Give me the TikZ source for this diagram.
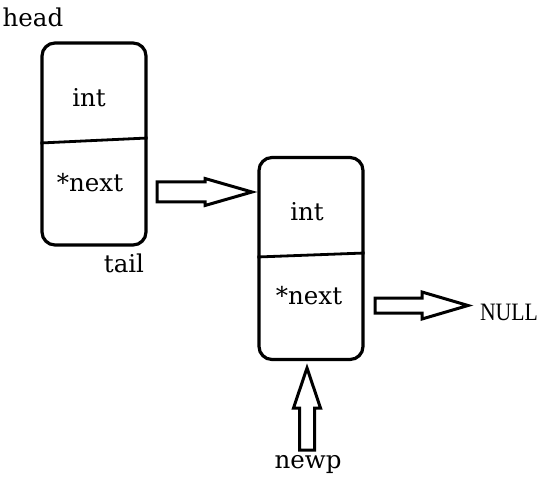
\documentclass[tikz,border=0pt]{standalone}
\usepackage{fontspec}
\setmainfont{DejaVu Serif}
\newfontfamily\timesfam{Liberation Serif}
\usepackage{tikz}

\tikzset{
  cell/.style={draw=black, line width=3.2pt, rounded corners=13pt,
    minimum width=104pt, minimum height=202pt, inner sep=0pt},
  lbl/.style={anchor=base, inner sep=0pt, text=black},
  pics/blockarrow/.style args={#1/#2/#3}{code={
    \draw[black, line width=3pt, line join=miter, fill=white]
      (0,-#3) -- (#1-#2,-#3) -- (#1-#2,-13.5) -- (#1,0)
      -- (#1-#2,13.5) -- (#1-#2,#3) -- (0,#3) -- cycle;
  }}
}

\begin{document}
\begin{tikzpicture}[x=1pt,y=-1pt,font=\fontsize{24.5}{28}\selectfont]
\useasboundingbox (0,0) rectangle (548,486);

% ---------- first node ----------
\node[cell] (node1) at (94,144) {};
\draw[line width=2.8pt] ([yshift=1pt]node1.west) -- ([yshift=6pt]node1.east);
\node[lbl] (head) at (33,27) {head};
\node[lbl] (int1) at (89,107) {int};
\node[lbl] (next1) at (90,192) {*next};
\node[lbl] (tail) at (124,272) {tail};

% ---------- second node ----------
\node[cell] (node2) at (311,258.5) {};
\draw[line width=2.8pt] ([yshift=1.5pt]node2.west) -- ([yshift=5.5pt]node2.east);
\node[lbl] (int2) at (307,221) {int};
\node[lbl] (next2) at (309,304) {*next};
\node[lbl,font=\timesfam\fontsize{25}{28}\selectfont] (null) at (509,320)
  {\scalebox{0.87}[1]{NULL}};
\node[lbl] (newp) at (308,468) {newp};

% ---------- arrows ----------
\coordinate (arr1) at (157,192);
\coordinate (arr2) at (375,305.5);
\coordinate (arr3) at (307,450);
\pic at (arr1) {blockarrow={95/47/10}};
\pic at (arr2) {blockarrow={93/46/7.5}};
\pic[rotate=90] at (arr3) {blockarrow={82/40/7.5}};

\end{tikzpicture}
\end{document}
